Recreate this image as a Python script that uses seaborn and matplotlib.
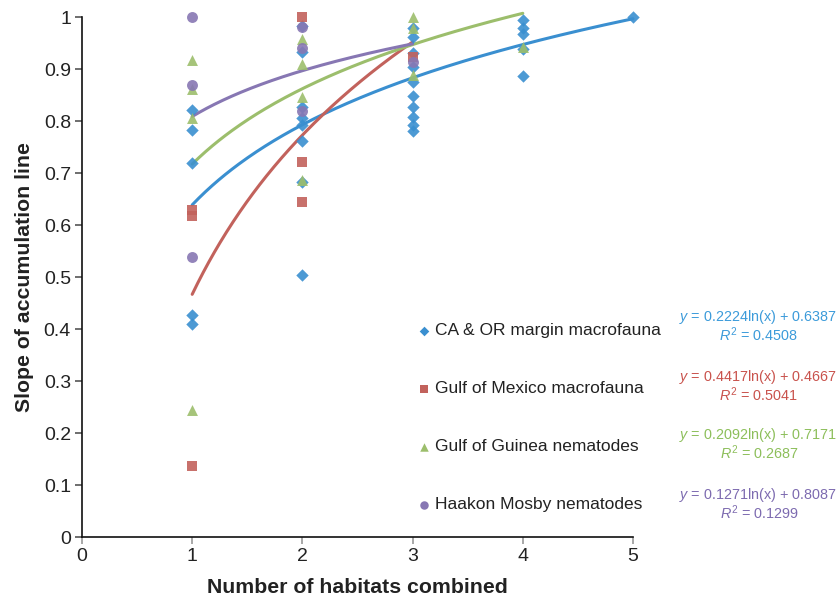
import numpy as np
import pandas as pd
import matplotlib
matplotlib.use("Agg")
import matplotlib.pyplot as plt
import seaborn as sns

# ---- data ----
series_names = ["CA & OR margin macrofauna", "Gulf of Mexico macrofauna",
                "Gulf of Guinea nematodes", "Haakon Mosby nematodes"]

ca_x = [1, 1, 1, 1, 1,
        2, 2, 2, 2, 2, 2, 2, 2,
        3, 3, 3, 3, 3, 3, 3, 3, 3, 3,
        4, 4, 4, 4, 4,
        5]
ca_y = [0.821, 0.783, 0.720, 0.427, 0.409,
        0.983, 0.933, 0.827, 0.806, 0.792, 0.762, 0.683, 0.504,
        0.978, 0.961, 0.930, 0.904, 0.875, 0.848, 0.826, 0.808, 0.792, 0.781,
        0.995, 0.978, 0.967, 0.938, 0.887,
        1.0]

gom_x = [1, 1, 1, 2, 2, 2, 3]
gom_y = [0.628, 0.617, 0.136, 1.0, 0.722, 0.645, 0.924]

gog_x = [1, 1, 1, 1, 2, 2, 2, 2, 3, 3, 3, 4]
gog_y = [0.917, 0.861, 0.805, 0.244, 0.957, 0.909, 0.847, 0.687, 1.0, 0.978, 0.888, 0.943]

hm_x = [1, 1, 1, 2, 2, 2, 3]
hm_y = [1.0, 0.869, 0.538, 0.981, 0.940, 0.819, 0.914]

# logarithmic trend lines y = a ln(x) + b (from the chart's annotations)
trend_a = [0.2224, 0.4417, 0.2092, 0.1271]
trend_b = [0.6387, 0.4667, 0.7171, 0.8087]
trend_r2 = ["0.4508", "0.5041", "0.2687", "0.1299"]
trend_xmax = [5, 3, 4, 3]

x_ticks = [0, 1, 2, 3, 4, 5]
y_ticks = [0, 0.1, 0.2, 0.3, 0.4, 0.5, 0.6, 0.7, 0.8, 0.9, 1.0]
y_tick_labels = ["0", "0.1", "0.2", "0.3", "0.4", "0.5", "0.6", "0.7", "0.8", "0.9", "1"]

colors = ["#3A8FD0", "#C2625C", "#9CBE6C", "#8777B3"]
text_colors = ["#3C9BDA", "#C9534D", "#8DBF5B", "#7D6BB0"]
markers = ["D", "s", "^", "o"]
msizes = [40, 60, 62, 62]

# ---- build table ----
frames = []
for name, xs, ys in zip(series_names, [ca_x, gom_x, gog_x, hm_x], [ca_y, gom_y, gog_y, hm_y]):
    frames.append(pd.DataFrame({"x": xs, "y": ys, "series": name}))
df = pd.concat(frames, ignore_index=True)

sns.set_theme(style="white")
plt.rcParams['font.family'] = ['Liberation Sans', 'DejaVu Sans']
plt.rcParams['mathtext.fontset'] = 'custom'
plt.rcParams['mathtext.rm'] = 'Liberation Sans'
plt.rcParams['mathtext.it'] = 'Liberation Sans:italic'

fig = plt.figure(figsize=(8.4, 6.05), dpi=100)
ax = fig.add_axes([82 / 840, 68 / 605, 551 / 840, 520 / 605])

# trend lines
for i in range(4):
    xs = np.linspace(1, trend_xmax[i], 200)
    ys = trend_a[i] * np.log(xs) + trend_b[i]
    sns.lineplot(x=xs, y=ys, ax=ax, color=colors[i], lw=2.2, legend=False, zorder=2)
for ln in ax.lines:
    ln.set_clip_on(False)

# points
handles = []
for i, name in enumerate(series_names):
    sub = df[df["series"] == name]
    sns.scatterplot(data=sub, x="x", y="y", ax=ax, marker=markers[i], color=colors[i],
                    s=msizes[i], linewidth=0, alpha=0.9, zorder=3, clip_on=False, legend=False)
    h = ax.scatter([], [], marker=markers[i], color=colors[i], s=msizes[i] * 0.6, linewidth=0)
    handles.append(h)

ax.set_xlim(0, 5)
ax.set_ylim(0, 1)
ax.set_xticks(x_ticks)
ax.set_xticklabels([str(t) for t in x_ticks])
ax.set_yticks(y_ticks)
ax.set_yticklabels(y_tick_labels)
ax.tick_params(axis="both", labelsize=14, colors="#222222", length=5, width=1.2,
               direction="out", bottom=True, left=True, pad=3)
ax.tick_params(axis="x", color="#999999")
ax.tick_params(axis="y", color="#555555")
for s in ["top", "right"]:
    ax.spines[s].set_visible(False)
for s in ["left", "bottom"]:
    ax.spines[s].set_color("#111111")
    ax.spines[s].set_linewidth(1.2)

ax.set_xlabel("Number of habitats combined", fontsize=15.3, fontweight="bold", color="#222222", labelpad=9)
ax.set_ylabel("Slope of accumulation line", fontsize=15.3, fontweight="bold", color="#222222", labelpad=7)

leg = fig.legend(handles, series_names, loc="upper left", bbox_to_anchor=(408 / 840, 1 - 316 / 605),
                 frameon=False, fontsize=12.5, labelspacing=2.47, handletextpad=0.05,
                 handlelength=1.1, borderaxespad=0)
for t in leg.get_texts():
    t.set_color("#222222")

# equation annotations
eq_y = [317, 377, 435, 495]
for i in range(4):
    fig.text(758 / 840, 1 - eq_y[i] / 605,
             "$\\it{y}$ = %.4fln(x) + %.4f" % (trend_a[i], trend_b[i]),
             ha="center", va="center", fontsize=10.4, color=text_colors[i])
    fig.text(759 / 840, 1 - (eq_y[i] + 18) / 605,
             "$\\it{R}^2$ = " + trend_r2[i],
             ha="center", va="center", fontsize=10.4, color=text_colors[i])

fig.savefig("out.png", dpi=100)
